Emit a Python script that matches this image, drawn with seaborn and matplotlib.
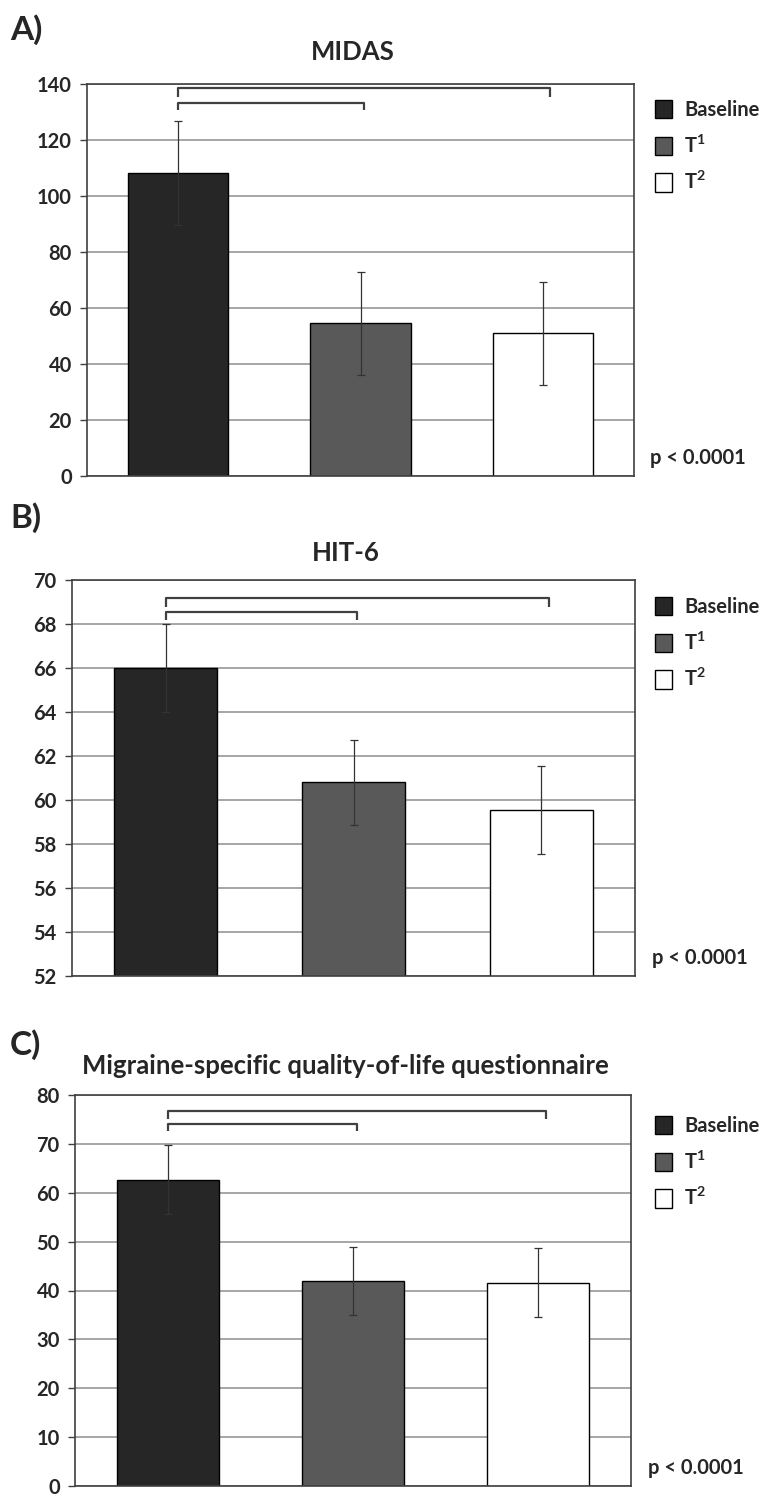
import numpy as np
import pandas as pd
import matplotlib
matplotlib.use("Agg")
import matplotlib.pyplot as plt
import seaborn as sns

# data
groups = ["Baseline", "T1", "T2"]
legend_labels = ["Baseline", r"$\mathbf{T^{1}}$", r"$\mathbf{T^{2}}$"]
colors = ["#262626", "#595959", "#ffffff"]

midas_mean = [108.2, 54.5, 50.9]
midas_err = [18.5, 18.5, 18.5]
hit6_mean = [66.0, 60.8, 59.55]
hit6_err = [2.0, 1.95, 2.0]
mslq_mean = [62.7, 42.0, 41.6]
mslq_err = [7.0, 7.0, 7.0]

panels = [
    ("A)", "MIDAS", midas_mean, midas_err, (0, 140), 20),
    ("B)", "HIT-6", hit6_mean, hit6_err, (52, 70), 2),
    ("C)", "Migraine-specific quality-of-life questionnaire", mslq_mean, mslq_err, (0, 80), 10),
]
# bracket levels (top, bottom) as fraction of the axis range
brackets = [((0.990, 0.967), (0.952, 0.934)),
            ((0.954, 0.932), (0.919, 0.900)),
            ((0.959, 0.939), (0.926, 0.908))]

sns.set_style("white")
plt.rcParams["font.family"] = ["Lato", "DejaVu Sans"]
plt.rcParams["font.weight"] = "bold"
plt.rcParams["mathtext.fontset"] = "custom"
plt.rcParams["mathtext.bf"] = "Lato:bold"
plt.rcParams["mathtext.rm"] = "Lato:bold"

W, H = 765, 1496
fig = plt.figure(figsize=(W / 100, H / 100), dpi=100)

# axes boxes in pixels: left, right, top, bottom
boxes = [(87, 634, 84, 476), (72, 635, 580, 976), (75, 631, 1095, 1486)]
letter_y = [30, 518, 1045]
title_y = [52, 553, 1066]
legend_top = [100, 597, 1116]

for i, (letter, title, mean, err, ylim, step) in enumerate(panels):
    l, r, t, b = boxes[i]
    ax = fig.add_axes([l / W, 1 - b / H, (r - l) / W, (b - t) / H])
    df = pd.DataFrame({"group": groups, "value": mean})
    sns.barplot(data=df, x="group", y="value", hue="group", palette=colors,
                width=0.55, edgecolor="black", linewidth=1.0, legend=False, ax=ax)
    ax.errorbar(range(len(groups)), mean, yerr=err, fmt="none",
                ecolor="#333333", elinewidth=0.9, capsize=3, capthick=0.9, zorder=5)

    ax.set_ylim(*ylim)
    ax.set_xlim(-0.5, 2.5)
    ax.set_yticks(np.arange(ylim[0], ylim[1] + step, step))
    ax.set_axisbelow(True)
    ax.yaxis.grid(True, color="#a6a6a6", linewidth=1.4)
    ax.set_xticks([])
    ax.set_xlabel("")
    ax.set_ylabel("")
    for s in ax.spines.values():
        s.set_color("#404040")
        s.set_linewidth(1.2)
    ax.tick_params(axis="y", left=True, length=5, width=1, color="#404040",
                   labelsize=14.5, pad=6)
    for lab in ax.get_yticklabels():
        lab.set_fontweight("bold")

    # significance brackets from baseline to T1 and T2
    span = ylim[1] - ylim[0]
    (hi_top, hi_bot), (lo_top, lo_bot) = brackets[i]
    for end, top, bot in [(2.04, hi_top, hi_bot), (1.02, lo_top, lo_bot)]:
        y1 = ylim[0] + top * span
        y0 = ylim[0] + bot * span
        ax.plot([0, 0, end, end], [y0, y1, y1, y0], color="#404040", lw=1.6,
                solid_capstyle="butt", clip_on=False)

    handles = ax.patches[:3]
    ax.legend(handles, legend_labels, loc="upper left",
              bbox_to_anchor=(655 / W, 1 - legend_top[i] / H),
              bbox_transform=fig.transFigure,
              frameon=False, handlelength=0.85, handleheight=1.0,
              handletextpad=0.6, labelspacing=0.72, borderaxespad=0, borderpad=0,
              prop={"weight": "bold", "size": 14.5})
    ax.text(1.03, 0.045, "p < 0.0001", transform=ax.transAxes, fontsize=14.5,
            fontweight="bold", ha="left", va="center")

    fig.text(10 / W, 1 - letter_y[i] / H, letter, fontsize=24, fontweight="bold",
             ha="left", va="center")
    fig.text(((l + r) / 2 - 8) / W, 1 - title_y[i] / H, title, fontsize=18.5,
             fontweight="bold", ha="center", va="center")

fig.savefig("out.png", dpi=100)
